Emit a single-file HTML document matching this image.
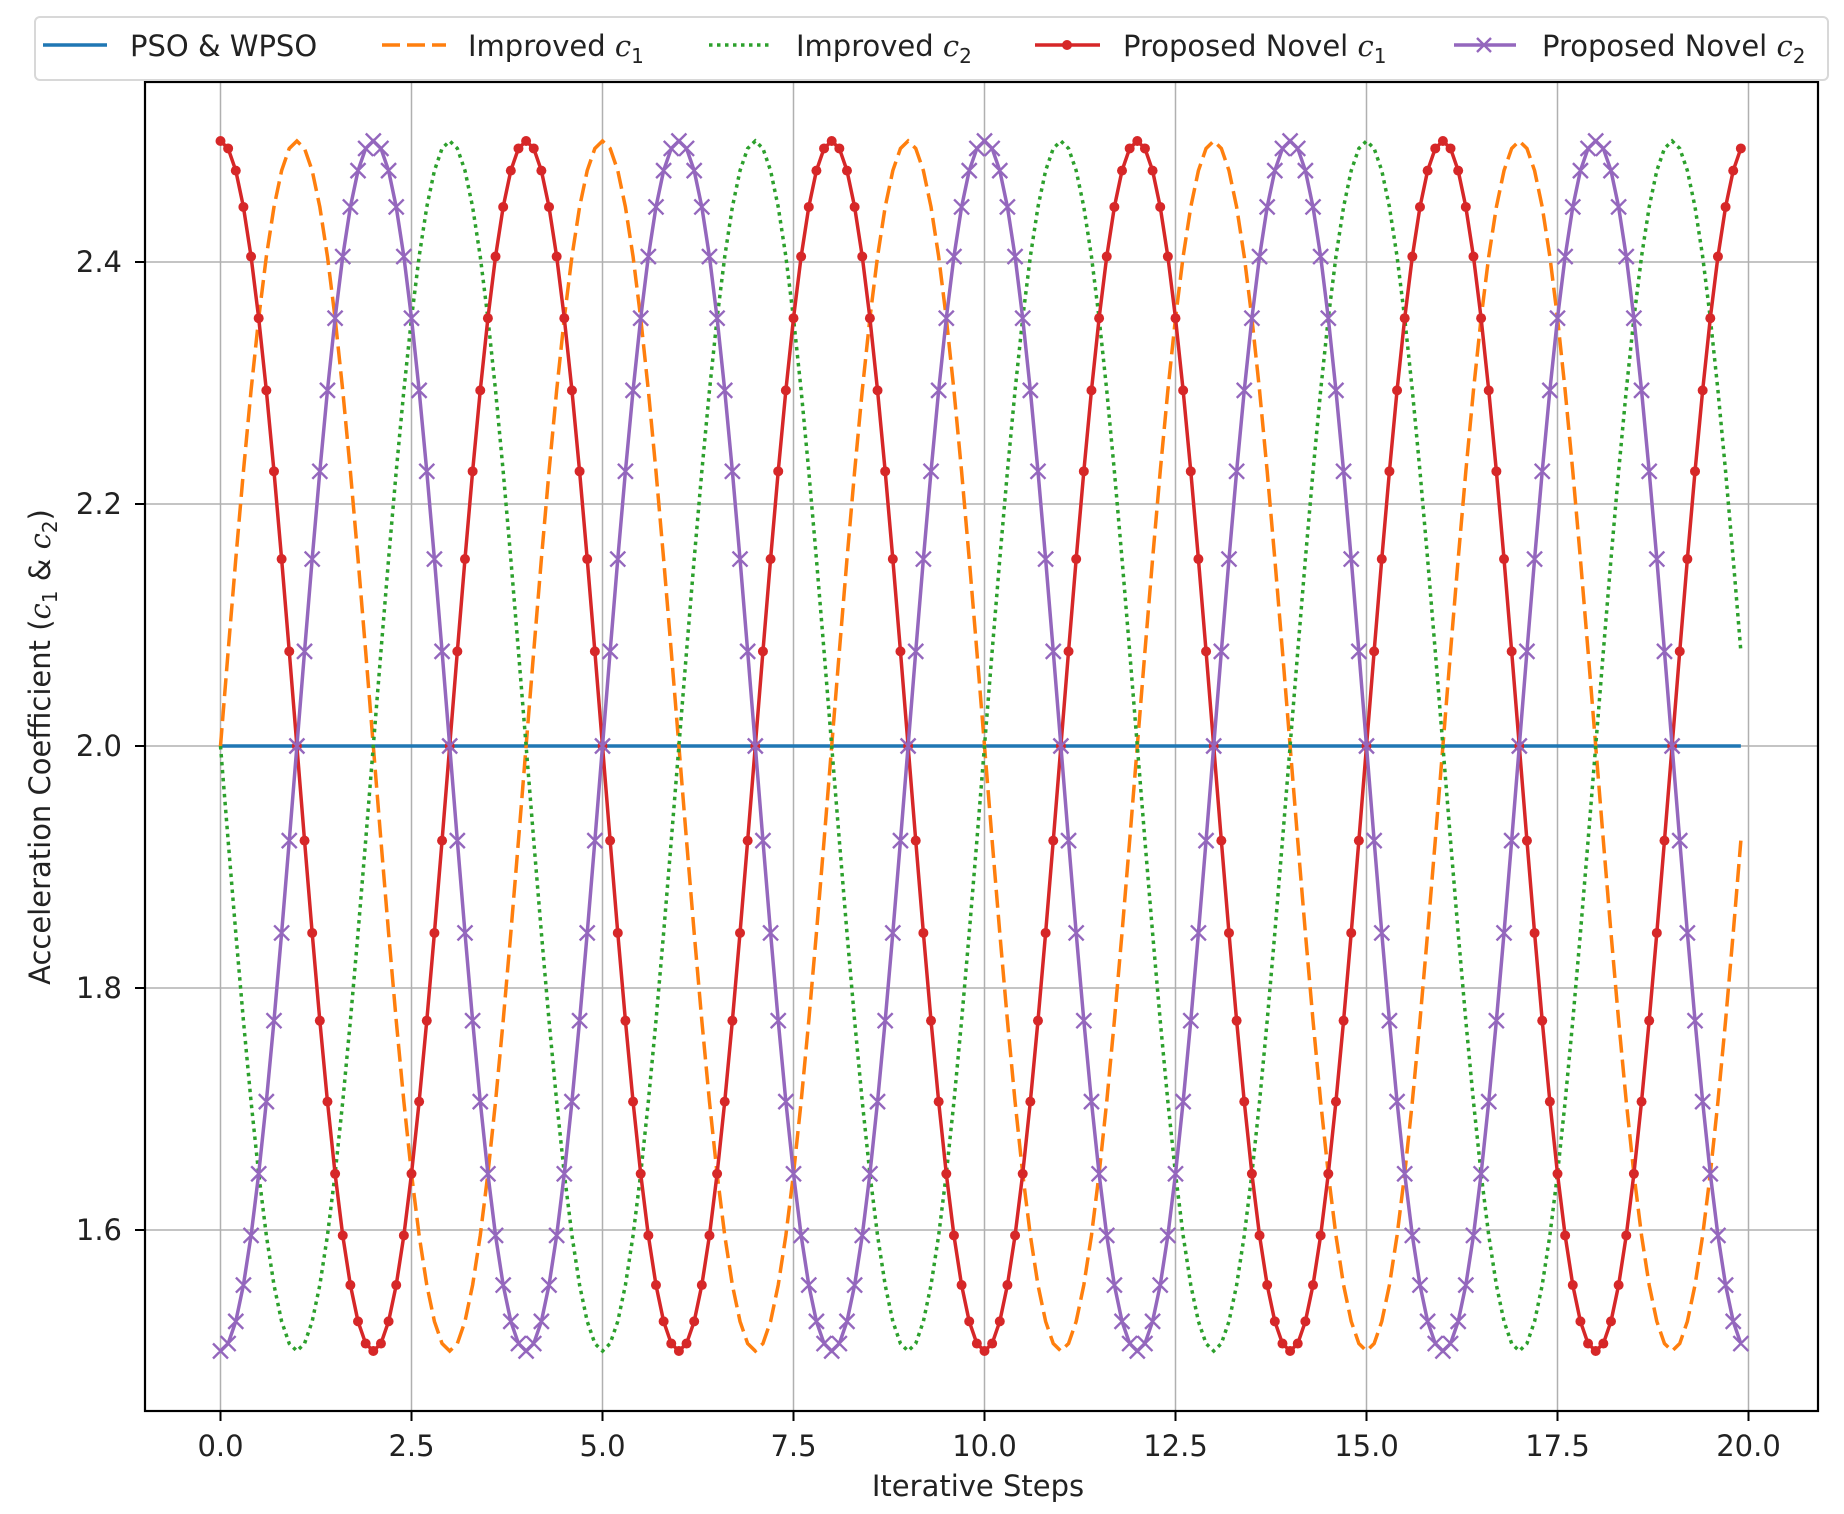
<!DOCTYPE html>
<html><head><meta charset="utf-8">
<style>
html,body{margin:0;padding:0;background:#fff;}
svg{display:block;font-family:"DejaVu Sans","Liberation Sans",sans-serif;}
</style></head>
<body>
<svg id="s" width="1844" height="1514" viewBox="0 0 1844 1514" xmlns="http://www.w3.org/2000/svg">
<rect width="1844" height="1514" fill="#fff"/>
<g id="grid" stroke="#b0b0b0" stroke-width="1.5"></g>
<g id="series"></g>
<rect x="145" y="82" width="1673" height="1329" fill="none" stroke="#000" stroke-width="2.2"/>
<g id="ticks" stroke="#000" stroke-width="2"></g>
<g id="labels" font-size="29" fill="#222"></g>
<text x="978" y="1496" font-size="29" text-anchor="middle" fill="#222">Iterative Steps</text>
<text transform="translate(50,747) rotate(-90)" font-size="29" text-anchor="middle" fill="#222">Acceleration Coefficient (<tspan font-style="italic" font-family="DejaVu Serif, serif">c</tspan><tspan font-size="20" dy="7">1</tspan><tspan dy="-7"> &amp; </tspan><tspan font-style="italic" font-family="DejaVu Serif, serif">c</tspan><tspan font-size="20" dy="7">2</tspan><tspan dy="-7">)</tspan></text>
<!-- legend -->
<rect x="35" y="17" width="1793" height="63" rx="5" fill="#fff" stroke="#d8d8d8" stroke-width="2"/>
<g font-size="29" fill="#222">
<line x1="43" y1="45" x2="107" y2="45" stroke="#1f77b4" stroke-width="3.5"/>
<text x="130" y="56">PSO &amp; WPSO</text>
<line x1="382" y1="45" x2="446" y2="45" stroke="#ff7f0e" stroke-width="3.5" stroke-dasharray="18 7"/>
<text x="468" y="56">Improved <tspan font-style="italic" font-family="DejaVu Serif, serif">c</tspan><tspan font-size="20" dy="7">1</tspan></text>
<line x1="709" y1="45" x2="770" y2="45" stroke="#2ca02c" stroke-width="3.5" stroke-dasharray="3.5 4.5"/>
<text x="796" y="56">Improved <tspan font-style="italic" font-family="DejaVu Serif, serif">c</tspan><tspan font-size="20" dy="7">2</tspan></text>
<line x1="1035" y1="45" x2="1100" y2="45" stroke="#d62728" stroke-width="3.5"/>
<circle cx="1067" cy="45" r="5" fill="#d62728"/>
<text x="1123" y="56">Proposed Novel <tspan font-style="italic" font-family="DejaVu Serif, serif">c</tspan><tspan font-size="20" dy="7">1</tspan></text>
<line x1="1454" y1="45" x2="1516" y2="45" stroke="#9467bd" stroke-width="3.5"/>
<path d="M1477 38 L1491 52 M1477 52 L1491 38" stroke="#9467bd" stroke-width="2.4"/>
<text x="1542" y="56">Proposed Novel <tspan font-style="italic" font-family="DejaVu Serif, serif">c</tspan><tspan font-size="20" dy="7">2</tspan></text>
</g>
</svg>
<script>
(function(){
var NS="http://www.w3.org/2000/svg";
function X(v){return 220.5+v*76.4;}
function Y(v){return 746-(v-2)*1210;}
function el(p,t,a){var e=document.createElementNS(NS,t);for(var k in a)e.setAttribute(k,a[k]);p.appendChild(e);return e;}
var grid=document.getElementById('grid'),ticks=document.getElementById('ticks'),labels=document.getElementById('labels'),ser=document.getElementById('series');
for(var i=0;i<=8;i++){var v=i*2.5,x=X(v);
 el(grid,'line',{x1:x,y1:82,x2:x,y2:1411});
 el(ticks,'line',{x1:x,y1:1411,x2:x,y2:1421});
 var t=el(labels,'text',{x:x,y:1456,'text-anchor':'middle'});t.textContent=v.toFixed(1);}
[1.6,1.8,2.0,2.2,2.4].forEach(function(v){var y=Y(v);
 el(grid,'line',{x1:145,y1:y,x2:1818,y2:y});
 el(ticks,'line',{x1:135,y1:y,x2:145,y2:y});
 var t=el(labels,'text',{x:122,y:y+10,'text-anchor':'end'});t.textContent=v.toFixed(1);});
var xs=[];for(var k=0;k<200;k++)xs.push(k*0.1);
function path(f){return xs.map(function(x,i){return (i?'L':'M')+X(x).toFixed(2)+' '+Y(f(x)).toFixed(2);}).join(' ');}
var P=Math.PI;
el(ser,'path',{d:path(function(){return 2;}),stroke:'#1f77b4','stroke-width':3.5,fill:'none'});
el(ser,'path',{d:path(function(x){return 2+0.5*Math.sin(P*x/2);}),stroke:'#ff7f0e','stroke-width':3.5,fill:'none','stroke-dasharray':'18 7'});
el(ser,'path',{d:path(function(x){return 2-0.5*Math.sin(P*x/2);}),stroke:'#2ca02c','stroke-width':3.5,fill:'none','stroke-dasharray':'3.5 4.5'});
var fr=function(x){return 2+0.5*Math.cos(P*x/2);};
el(ser,'path',{d:path(fr),stroke:'#d62728','stroke-width':3.5,fill:'none'});
xs.forEach(function(x){el(ser,'circle',{cx:X(x),cy:Y(fr(x)),r:5,fill:'#d62728'});});
var fp=function(x){return 2-0.5*Math.cos(P*x/2);};
el(ser,'path',{d:path(fp),stroke:'#9467bd','stroke-width':3.5,fill:'none'});
var d='';xs.forEach(function(x){var cx=X(x),cy=Y(fp(x)),s=7.5;d+='M'+(cx-s)+' '+(cy-s)+'L'+(cx+s)+' '+(cy+s)+'M'+(cx-s)+' '+(cy+s)+'L'+(cx+s)+' '+(cy-s);});
el(ser,'path',{d:d,stroke:'#9467bd','stroke-width':2.4,fill:'none'});
})();
</script>
</body></html>
